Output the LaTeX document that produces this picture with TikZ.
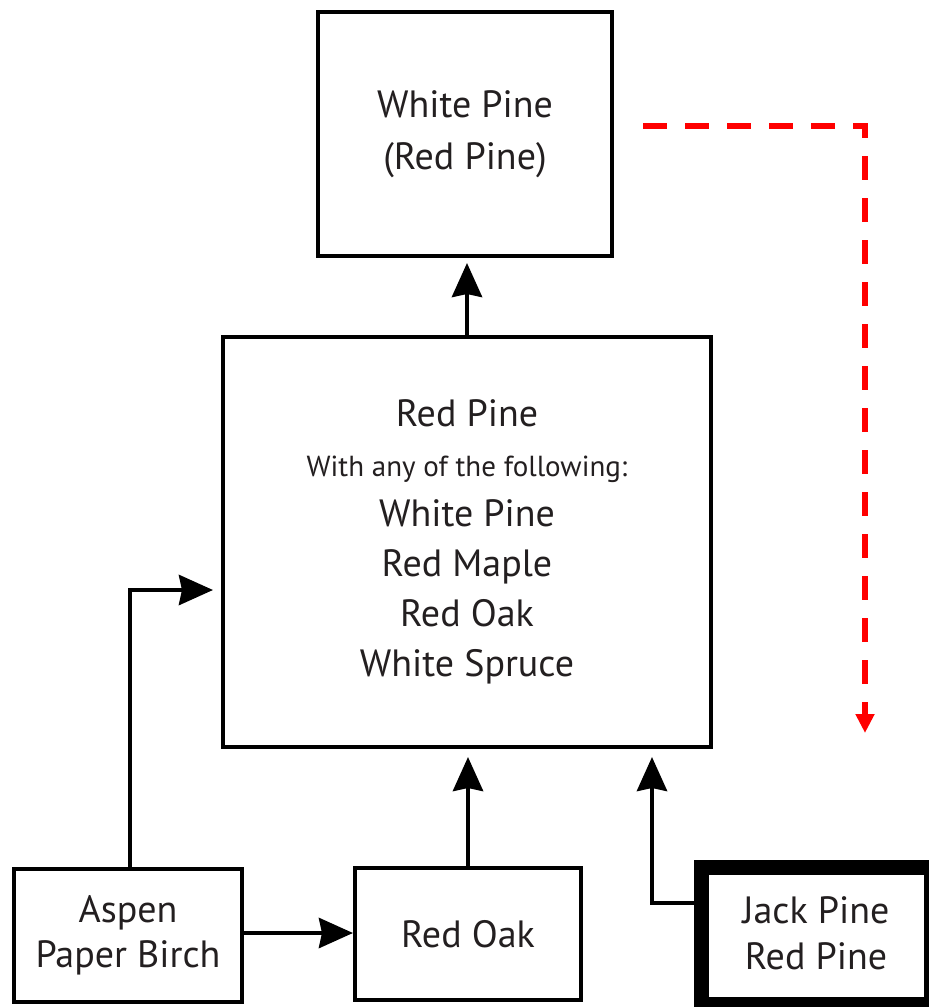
\documentclass[tikz,border=0pt]{standalone}
\usepackage{fontspec}
\setmainfont{PT Sans}
\usetikzlibrary{arrows.meta}
\definecolor{txt}{HTML}{231F20}
\definecolor{redline}{HTML}{FF0000}
\begin{document}
\begin{tikzpicture}[x=1pt,y=-1pt,
  box/.style={draw=black, line width=4pt, rectangle, inner sep=0pt, align=center, text=txt},
  arr/.style={line width=4.5pt, -{Stealth[length=34pt,width=30pt,inset=3pt]}}]
\useasboundingbox (0,0) rectangle (929,1007);
\fill[white] (0,0) rectangle (929,1007);
\node[box, minimum width=294pt, minimum height=244pt, font=\fontsize{38}{52}\selectfont] (top) at (465,134) {White Pine\\(Red Pine)};
\node[box, minimum width=488pt, minimum height=410pt, font=\fontsize{38}{50}\selectfont] (mid) at (467,542)
  {Red Pine\\{\fontsize{29}{50}\selectfont With any of the following:}\\White Pine\\Red Maple\\Red Oak\\White Spruce};
\node[box, minimum width=228pt, minimum height=133pt, font=\fontsize{38}{45}\selectfont] (aspen) at (128,935.5) {Aspen\\Paper Birch};
\node[box, minimum width=226pt, minimum height=132pt, font=\fontsize{38}{45}\selectfont] (redoak) at (468,934) {Red Oak};
\node[box, line width=15pt, minimum width=230pt, minimum height=136.5pt] (jack) at (816.5,936) {};
\node[text=txt, align=center, font=\fontsize{38}{46}\selectfont] (jacktext) at (816,933) {Jack Pine\\Red Pine};
\coordinate (redend) at (865,733);
\draw[arr, shorten >=5pt] (mid.north) -- (mid.north |- top.south);
\draw[arr] ([yshift=2.5pt]aspen.east) -- ([yshift=2.5pt]aspen.east -| redoak.west);
\draw[arr, shorten >=8pt] ([xshift=2pt]aspen.north) |- ([yshift=-48pt]mid.west);
\draw[arr, shorten >=8pt] (redoak.north) -- (redoak.north |- mid.south);
\draw[arr, shorten >=8pt] ([yshift=33pt]jack.west) -| ([xshift=185pt]mid.south);
\draw[redline, line width=6pt, dash pattern=on 24pt off 18pt, -{Triangle[length=19pt,width=18pt]}]
  ([xshift=29pt,yshift=8pt]top.east) -| (redend);
\end{tikzpicture}
\end{document}
